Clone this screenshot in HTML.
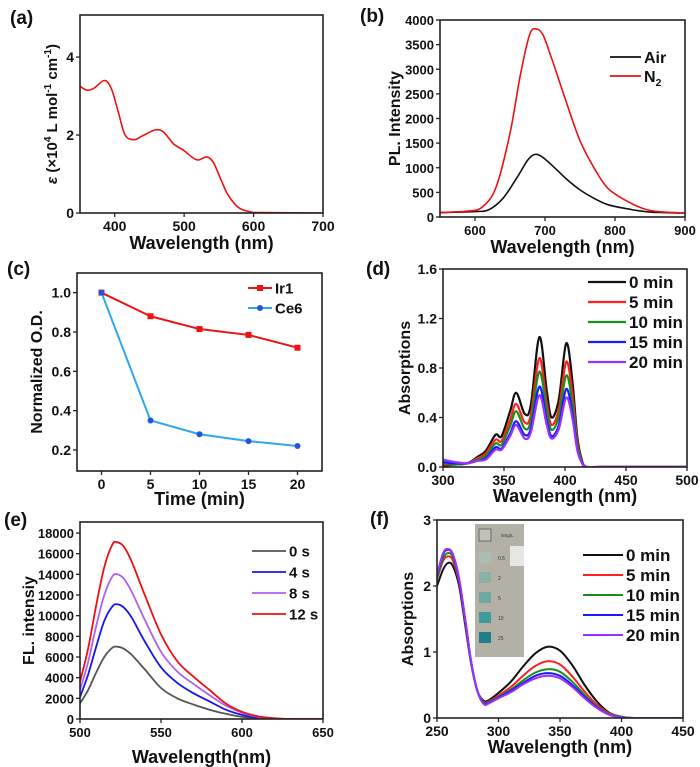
<!DOCTYPE html>
<html><head><meta charset="utf-8"><style>
body{margin:0;background:#fff}
svg{display:block;font-family:"Liberation Sans",Arial,sans-serif;font-weight:bold}
</style></head><body>
<svg id="fig" width="700" height="767" viewBox="0 0 700 767"></svg>
<script>
// ---- Panel a data
const aX=[350,360,370,385,395,405,415,428,440,458,470,485,500,510,520,533,542,552,562,572,582,595,610,700];
const aY=[3.25,3.15,3.2,3.4,3.2,2.6,2.0,1.88,1.98,2.13,2.08,1.77,1.6,1.45,1.36,1.44,1.3,0.9,0.5,0.25,0.1,0.03,0.01,0];
// ---- Panel b data
const bAirX=[550,600,620,640,660,675,685,695,710,730,750,770,790,820,850,900];
const bAirY=[90,110,150,380,800,1150,1270,1230,1050,780,550,380,250,160,100,80];
const bN2X=[550,590,610,630,650,665,678,687,697,710,730,750,770,790,820,845,870,900];
const bN2Y=[90,120,200,600,1700,2900,3700,3820,3700,3200,2350,1550,1000,580,300,150,100,80];
// ---- Panel c data
const cTime=[0,5,10,15,20];
const cIr1=[1.0,0.88,0.815,0.785,0.72];
const cCe6=[1.0,0.35,0.28,0.245,0.22];
// ---- Panel d data
const dX=[300,310,320,328,335,343,348,355,360,367,372,379,385,389,395,401,406,410,414,418,430,500];
const d0=[0.01,0.02,0.03,0.08,0.13,0.26,0.25,0.45,0.60,0.43,0.50,1.05,0.62,0.40,0.55,1.0,0.70,0.25,0.05,0,0,0];
const d5=[0.02,0.02,0.03,0.07,0.11,0.22,0.21,0.38,0.51,0.36,0.42,0.88,0.52,0.34,0.47,0.85,0.60,0.21,0.04,0,0,0];
const d10=[0.03,0.02,0.03,0.06,0.09,0.19,0.18,0.33,0.45,0.31,0.37,0.77,0.46,0.30,0.41,0.74,0.52,0.18,0.04,0,0,0];
const d15=[0.04,0.03,0.03,0.05,0.07,0.16,0.15,0.27,0.37,0.26,0.31,0.65,0.38,0.25,0.34,0.63,0.44,0.15,0.03,0,0,0];
const d20=[0.06,0.04,0.03,0.05,0.06,0.14,0.14,0.25,0.34,0.23,0.28,0.58,0.34,0.23,0.31,0.56,0.40,0.14,0.03,0,0,0];
// ---- Panel e data
const eX=[500,505,510,515,520,523,527,532,540,550,560,570,580,590,600,610,620,630,650];
const e0=[1500,2800,4500,6000,6900,7000,6800,6200,4800,3000,2000,1400,900,500,200,50,0,0,0];
const e4=[2100,4300,7000,9500,10900,11100,10800,9800,7500,5000,3500,2500,1700,900,400,100,20,0,0];
const e8=[2800,5500,9000,12000,13800,14000,13600,12300,9600,6500,4600,3400,2300,1300,600,200,50,0,0];
const e12=[3600,6800,11000,14700,16900,17100,16700,15200,12000,8200,5600,4100,2800,1500,700,250,80,0,0];
// ---- Panel f data
const fX=[250,255,259,263,268,273,278,283,288,292,300,310,320,330,340,350,360,370,380,390,400,410,450];
const f0=[2.0,2.25,2.35,2.3,2.0,1.4,0.8,0.4,0.26,0.27,0.38,0.55,0.78,0.98,1.08,1.02,0.80,0.50,0.25,0.08,0.02,0,0];
const f5=[2.1,2.38,2.45,2.38,2.05,1.45,0.82,0.4,0.24,0.25,0.34,0.47,0.64,0.79,0.86,0.81,0.63,0.40,0.20,0.07,0.02,0,0];
const f10=[2.12,2.42,2.5,2.43,2.08,1.47,0.82,0.4,0.23,0.24,0.32,0.43,0.57,0.69,0.74,0.70,0.55,0.35,0.17,0.06,0.02,0,0];
const f15=[2.15,2.48,2.55,2.47,2.1,1.48,0.83,0.4,0.22,0.23,0.31,0.41,0.53,0.64,0.68,0.64,0.50,0.32,0.16,0.05,0.01,0,0];
const f20=[2.17,2.5,2.56,2.48,2.12,1.49,0.83,0.4,0.21,0.22,0.30,0.39,0.51,0.60,0.64,0.60,0.47,0.30,0.15,0.05,0.01,0,0];
// tick labels
const aXT=[400,500,600,700], aYT=[0,2,4];
const bXT=[600,700,800,900], bYT=[0,500,1000,1500,2000,2500,3000,3500,4000];
const cXT=[0,5,10,15,20], cYT=[0.2,0.4,0.6,0.8,1.0];
const dXT=[300,350,400,450,500], dYT=[0.0,0.4,0.8,1.2,1.6];
const eXT=[500,550,600,650], eYT=[0,2000,4000,6000,8000,10000,12000,14000,16000,18000];
const fXT=[250,300,350,400,450], fYT=[0,1,2,3];

const NS='http://www.w3.org/2000/svg', svg=document.getElementById('fig');
function el(tag,attrs,parent,txt){const e=document.createElementNS(NS,tag);for(const k in attrs)e.setAttribute(k,attrs[k]);if(txt!==undefined)e.textContent=txt;(parent||svg).appendChild(e);return e;}
function smooth(pts){let d='M'+pts[0][0].toFixed(1)+','+pts[0][1].toFixed(1);
 for(let i=0;i<pts.length-1;i++){const p0=pts[Math.max(0,i-1)],p1=pts[i],p2=pts[i+1],p3=pts[Math.min(pts.length-1,i+2)];
  const c1=[p1[0]+(p2[0]-p0[0])/6,p1[1]+(p2[1]-p0[1])/6],c2=[p2[0]-(p3[0]-p1[0])/6,p2[1]-(p3[1]-p1[1])/6];
  d+='C'+c1.map(v=>v.toFixed(1))+' '+c2.map(v=>v.toFixed(1))+' '+p2[0].toFixed(1)+','+p2[1].toFixed(1);}
 return d;}
function panel(c){
 const g=el('g',{});
 const sx=v=>c.L+(v-c.x0)/(c.x1-c.x0)*(c.R-c.L), sy=v=>c.B-(v-c.y0)/(c.y1-c.y0)*(c.B-c.T);
 const clip='clip-'+c.id;const cp=el('clipPath',{id:clip},g);el('rect',{x:c.L,y:c.T,width:c.R-c.L,height:c.B-c.T},cp);
 c.xt.forEach(v=>{const x=sx(v);el('line',{x1:x,x2:x,y1:c.B,y2:c.B+4,stroke:'#222','stroke-width':1.3},g);
  const t=el('text',{x:x,y:c.B+18,'text-anchor':'middle','font-size':c.tf||14,fill:'#111'},g,c.xf?c.xf(v):v);});
 c.yt.forEach(v=>{const y=sy(v);el('line',{x1:c.L-4,x2:c.L,y1:y,y2:y,stroke:'#222','stroke-width':1.3},g);
  const t=el('text',{x:c.L-6,y:y+5,'text-anchor':'end','font-size':c.tf||14,fill:'#111'},g,c.yf?c.yf(v):v);});
 const sg=el('g',{'clip-path':'url(#'+clip+')'},g);
 c.series.forEach(s=>{const pts=s.x.map((v,i)=>[sx(v),sy(s.y[i])]);
  const p=el('path',{d:s.straight?('M'+pts.map(p=>p.join(',')).join('L')):smooth(pts),fill:'none',stroke:s.color,'stroke-width':s.w||1.6,'stroke-linejoin':'round'},sg);
  
  if(s.marker){pts.forEach(q=>{const m=s.marker=='sq'?el('rect',{x:q[0]-3,y:q[1]-3,width:6,height:6,fill:s.color},sg):el('circle',{cx:q[0],cy:q[1],r:3,fill:s.mcolor||s.color},sg);});}
 });
 const fr=el('rect',{x:c.L,y:c.T,width:c.R-c.L,height:c.B-c.T,fill:'none',stroke:'#222','stroke-width':1.6},g);
 if(c.leg){c.series.forEach((s,i)=>{const y=c.leg.y+i*c.leg.dy;
  el('line',{x1:c.leg.x,x2:c.leg.x2,y1:y,y2:y,stroke:s.color,'stroke-width':s.w||1.8},g);
  if(s.marker){const mx=(c.leg.x+c.leg.x2)/2;s.marker=='sq'?el('rect',{x:mx-3,y:y-3,width:6,height:6,fill:s.color},g):el('circle',{cx:mx,cy:y,r:3,fill:s.mcolor},g);}
  const t=el('text',{x:c.leg.x2+3,y:y+c.leg.fs*0.36,'font-size':c.leg.fs,fill:'#111'},g,s.label);
  if(s.sub)el('tspan',{'font-size':c.leg.fs*0.65,dy:4},t,s.sub);});}
 const xt=el('text',{x:(c.L+c.R)/2,y:c.xty,'text-anchor':'middle','font-size':18,fill:'#111'},g,c.xtitle);
 const yt=el('text',{x:0,y:0,transform:'translate('+c.ytx+','+(c.T+c.B)/2+') rotate(-90)','text-anchor':'middle','font-size':c.ytfs||16,fill:'#111'},g);
 c.ytitle(yt);
 const pl=el('text',{x:c.lx,y:c.ly,'font-size':19,fill:'#111'},g,'('+c.id+')');
 return g;}

panel({id:'a',L:80,R:323,T:15,B:213,x0:350,x1:700,y0:0,y1:5.08,xt:aXT,yt:aYT,lx:10,ly:24,xty:249,ytx:57,xtitle:'Wavelength (nm)',ytfs:15,
 ytitle:t=>{el('tspan',{'font-style':'italic'},t,'ε');el('tspan',{},t,' (×10');el('tspan',{'font-size':10,dy:-6},t,'4');el('tspan',{dy:6},t,' L mol');el('tspan',{'font-size':10,dy:-6},t,'-1');el('tspan',{dy:6},t,' cm');el('tspan',{'font-size':10,dy:-6},t,'-1');el('tspan',{dy:6},t,')');},
 series:[{name:'epsilon',x:aX,y:aY,color:'#ee1111'}]});
panel({id:'b',L:440,R:685,T:20,B:217,x0:550,x1:900,y0:0,y1:4000,xt:bXT,yt:bYT,tf:13,lx:360,ly:22,xty:253,ytx:400,xtitle:'Wavelength (nm)',
 ytitle:t=>{t.textContent='PL. Intensity';},leg:{x:610,x2:641,y:57,dy:19,fs:16},
 series:[{name:'air',label:'Air',x:bAirX,y:bAirY,color:'#111'},{name:'n2',label:'N',sub:'2',x:bN2X,y:bN2Y,color:'#ee1111'}]});
panel({id:'c',L:77,R:322,T:273,B:471,x0:-2.5,x1:22.5,y0:0.093,y1:1.1,xt:cXT,yt:cYT,yf:v=>v.toFixed(1),lx:7,ly:275,xty:505,ytx:42,xtitle:'Time (min)',
 ytitle:t=>{t.textContent='Normalized O.D.';},leg:{x:248,x2:272,y:288,dy:20,fs:15},
 series:[{name:'ir1',label:'Ir1',x:cTime,y:cIr1,color:'#ee1111',straight:1,marker:'sq',w:2},{name:'ce6',label:'Ce6',x:cTime,y:cCe6,color:'#2fa8f0',mcolor:'#2255dd',straight:1,marker:'c',w:2}]});
panel({id:'d',L:443,R:687,T:269,B:467,x0:300,x1:500,y0:0,y1:1.6,xt:dXT,yt:dYT,yf:v=>v.toFixed(1),lx:366,ly:275,xty:502,ytx:410,xtitle:'Wavelength (nm)',
 ytitle:t=>{t.textContent='Absorptions';},leg:{x:588,x2:626,y:282,dy:20,fs:17},
 series:[{name:'0min',label:'0 min',x:dX,y:d0,color:'#111',w:2.2},{name:'5min',label:'5 min',x:dX,y:d5,color:'#ff2020',w:2.2},{name:'10min',label:'10 min',x:dX,y:d10,color:'#1a8f1a',w:2.2},{name:'15min',label:'15 min',x:dX,y:d15,color:'#1a1aff',w:2.2},{name:'20min',label:'20 min',x:dX,y:d20,color:'#9b30ff',w:2.2}]});
panel({id:'e',L:80,R:323,T:522,B:719,x0:500,x1:650,y0:0,y1:19065,xt:eXT,yt:eYT,tf:13,lx:4,ly:526,xty:763,ytx:34,xtitle:'Wavelength(nm)',
 ytitle:t=>{t.textContent='FL. intensiy';},leg:{x:252,x2:286,y:551,dy:21,fs:15},
 series:[{name:'0s',label:'0 s',x:eX,y:e0,color:'#555',w:1.8},{name:'4s',label:'4 s',x:eX,y:e4,color:'#1515ee',w:1.8},{name:'8s',label:'8 s',x:eX,y:e8,color:'#b060f0',w:1.8},{name:'12s',label:'12 s',x:eX,y:e12,color:'#ee1111',w:1.8}]});
const gf=panel({id:'f',L:437,R:683,T:520,B:718,x0:250,x1:450,y0:0,y1:3,xt:fXT,yt:fYT,lx:370,ly:525,xty:753,ytx:413,xtitle:'Wavelength (nm)',
 ytitle:t=>{t.textContent='Absorptions';},leg:{x:583,x2:623,y:555,dy:20,fs:17},
 series:[{name:'0min',label:'0 min',x:fX,y:f0,color:'#111',w:2},{name:'5min',label:'5 min',x:fX,y:f5,color:'#ff2020',w:2},{name:'10min',label:'10 min',x:fX,y:f10,color:'#1a8f1a',w:2},{name:'15min',label:'15 min',x:fX,y:f15,color:'#1a1aff',w:2},{name:'20min',label:'20 min',x:fX,y:f20,color:'#9b30ff',w:2}]});
// inset photo
const ins=el('g',{});
el('rect',{x:475,y:524,width:49,height:133,fill:'#b3b1a6'},ins);
el('rect',{x:479,y:529,width:12,height:12,fill:'#c2c0b8',stroke:'#555','stroke-width':0.8},ins);
el('rect',{x:510,y:546,width:14,height:20,fill:'#e6e6e2'},ins);
const swCol=['#a9bdb0','#86b3a6','#6fa8a0','#3f9b9c','#1f7f85'], swLab=['0.5','2','5','10','25'];
swCol.forEach((col,i)=>{el('rect',{x:479,y:552+i*20,width:12,height:11,fill:col},ins);el('text',{x:498,y:560+i*20,'font-size':5,'font-weight':'normal',fill:'#333'},ins,swLab[i]);});
el('text',{x:501,y:537,'font-size':4.5,'font-weight':'normal',fill:'#333'},ins,'0mg/L');
</script>
</body></html>
